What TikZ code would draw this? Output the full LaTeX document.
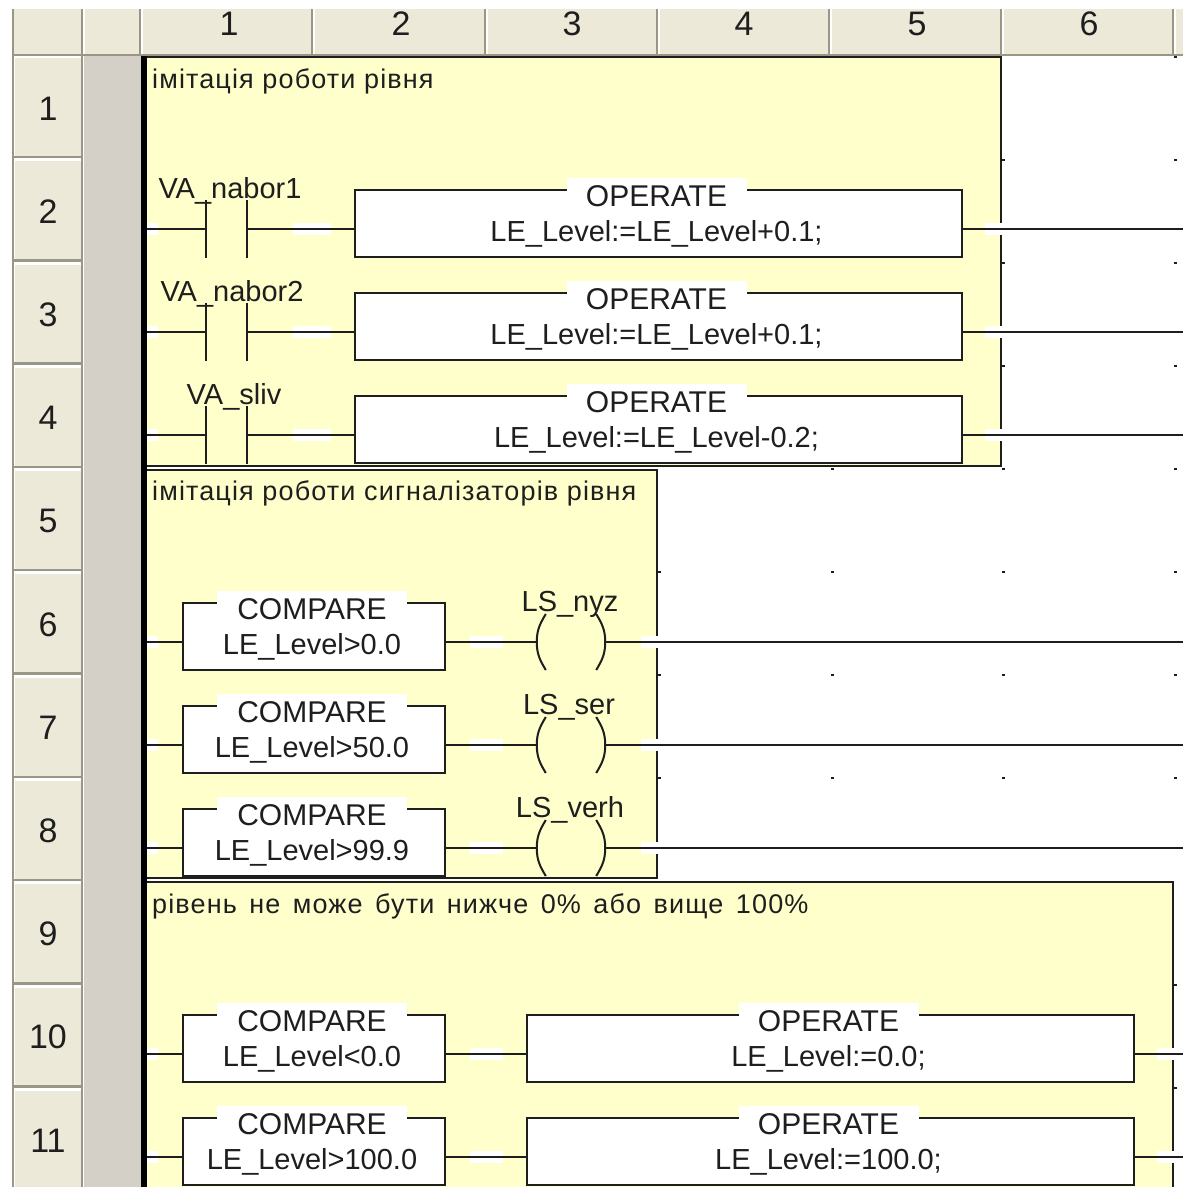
\documentclass[tikz,border=0pt]{standalone}
\usepackage{fontspec}
\setmainfont{Liberation Sans}
\usetikzlibrary{calc}
\definecolor{hdr}{HTML}{ECE9D8}
\definecolor{hdrdark}{HTML}{9A9686}
\definecolor{gutter}{HTML}{D4D0C8}
\definecolor{pale}{HTML}{FFFFCC}
\definecolor{ink}{HTML}{1E1E1E}
\tikzset{
  wire/.style={draw=ink,line width=2pt},
  ladbox/.style={draw=ink,line width=2.2pt,fill=white,inner sep=0pt,minimum height=67pt},
  hidden/.style={inner sep=0pt,minimum width=#1,minimum height=58pt},
  txt/.style={anchor=base,inner sep=0pt,font=\fontsize{29}{30}\selectfont,text=ink},
  title/.style={anchor=base,inner sep=2pt,fill=white,text height=26pt,text depth=6pt,font=\fontsize{30}{30}\selectfont,text=ink},
  note/.style={anchor=base west,inner sep=0pt,font=\fontsize{27}{30}\addfontfeature{LetterSpace=4.2}\selectfont,text=ink},
  num/.style={anchor=base,inner sep=0pt,font=\fontsize{34}{34}\selectfont,text=ink},
  border/.style={draw=ink,line width=2pt}
}
% name, left, top, right, title, title patch width, body
\newcommand{\ladblock}[7]{%
  \node[ladbox,minimum width=#4pt-#2pt] (#1) at ({(#2+#4)/2},{#3+33.5}) {};
  \node[title,minimum width=#6pt] (#1t) at ({(#2+#4)/2-2},{#3+16}) {#5};
  \node[txt] (#1b) at ({(#2+#4)/2-2},{#3+51}) {#7};
}
\newcommand{\patch}[3]{\fill[white] (#1,#3-6) rectangle (#2,#3+6);}
\newcommand{\contact}[5]{% name, y, label x, label, dummy
  \node[hidden=41pt] (#1) at (226.5,#2) {};
  \node[txt] (#1l) at (#3,#2-31) {#4};
  \draw[wire] (#1.north west) -- (#1.south west) (#1.north east) -- (#1.south east);
}
\newcommand{\coil}[4]{% name, y, label x, label
  \node[hidden=68pt] (#1) at (571,#2) {};
  \node[txt] (#1l) at (#3,#2-31) {#4};
  \draw[wire] ($(#1.west)+(9,-28)$) .. controls +(-6,10) and +(0,-12) .. (#1.west) .. controls +(0,12) and +(-6,-10) .. ($(#1.west)+(9,28)$);
  \draw[wire] ($(#1.east)+(-9,-28)$) .. controls +(6,10) and +(0,-12) .. (#1.east) .. controls +(0,12) and +(6,-10) .. ($(#1.east)+(-9,28)$);
}
\begin{document}
\begin{tikzpicture}[x=1pt,y=-1pt]
\useasboundingbox (0,0) rectangle (1183,1187);
\fill[white] (0,0) rectangle (1183,1187);
% header bar
\fill[hdr] (14,9) rectangle (1183,54);
\draw[hdrdark,line width=2.5pt] (13,9) -- (13,1187);
\draw[hdrdark,line width=2pt] (14,55) -- (1183,55);
\foreach \x in {82,140,312,485,657,829,1001,1173}{
  \draw[hdrdark,line width=2.5pt] (\x,9) -- (\x,54);
  \draw[white,line width=1.5pt] (\x+2,9) -- (\x+2,54);
}
\foreach \n/\x in {1/229,2/401,3/572,4/744,5/917,6/1089}{
  \node[num] (col\n) at (\x,35) {\n};
}
% row headers
\fill[gutter] (84,56) rectangle (141,1187);
\foreach \k in {1,...,11}{
  \pgfmathsetmacro\rtop{54.2+103.3*(\k-1)}
  \pgfmathsetmacro\rbase{120+103.2*(\k-1)}
  \fill[hdr] (15,\rtop+2.5) rectangle (81,\rtop+101.5);
  \draw[white,line width=1.5pt] (15,\rtop+3) -- (81,\rtop+3);
  \draw[hdrdark,line width=2.5pt] (14,\rtop+102.8) -- (83,\rtop+102.8);
  \node[num] (row\k) at (48,\rbase) {\k};
}
\draw[hdrdark,line width=2.5pt] (82,56) -- (82,1187);
% comment regions
\fill[pale] (147,57) rectangle (1001,466);
\fill[pale] (147,470) rectangle (657,878);
\fill[pale] (147,882) rectangle (1173,1187);
\draw[border] (147,57) -- (1001,57) -- (1001,466) -- (147,466);
\draw[border] (147,470) -- (657,470) -- (657,878) -- (147,878);
\draw[border] (147,882) -- (1173,882) -- (1173,1187);
\fill[black] (141,56) rectangle (147,1187);
% grid dots
\foreach \x/\y in {1175/57,1175/160,1175/263,1175/366,832/469,1003/469,1175/469,
  832/572,1003/572,1175/572,832/675,1003/675,1175/675,832/778,1003/778,1175/778,
  1003/160,1003/263,1003/366,659/572,659/675,659/778,1175/985,1175/1088}{
  \fill[ink] (\x-1.5,\y-1) rectangle (\x+1.5,\y+1);
}
% white gaps on the wires
\foreach \y in {229,332,435}{\patch{147}{158}{\y}\patch{293}{331}{\y}\patch{985}{1003}{\y}}
\foreach \y in {642,745,848}{\patch{147}{158}{\y}\patch{470}{503}{\y}\patch{641}{659}{\y}}
\foreach \y in {1054,1157}{\patch{147}{158}{\y}\patch{470}{503}{\y}\patch{1157}{1175}{\y}}
% notes
\node[note] (n1) at (152,88) {імітація роботи рівня};
\node[note] (n2) at (152,500) {імітація роботи сигналізаторів рівня};
\node[note] (n3) at (152,913) {\spaceskip=12.5pt рівень не може бути нижче 0\% або вище 100\%};
% rung 1..3
\contact{ca}{229}{230}{VA\_nabor1}{}
\contact{cb}{332}{232}{VA\_nabor2}{}
\contact{cc}{435}{234}{VA\_sliv}{}
\foreach \nm/\y in {ca/229,cb/332,cc/435}{
  \coordinate (\nm L) at (147,\y);
  \coordinate (\nm R) at (1183,\y);
}
\ladblock{oa}{355}{190}{962}{OPERATE}{180}{LE\_Level:=LE\_Level+0.1;}
\ladblock{ob}{355}{293}{962}{OPERATE}{180}{LE\_Level:=LE\_Level+0.1;}
\ladblock{oc}{355}{396}{962}{OPERATE}{180}{LE\_Level:=LE\_Level-0.2;}
\draw[wire] (caL) -- (ca.west) (ca.east) -- (oa.west |- caL) (oa.east |- caL) -- (caR);
\draw[wire] (cbL) -- (cb.west) (cb.east) -- (ob.west |- cbL) (ob.east |- cbL) -- (cbR);
\draw[wire] (ccL) -- (cc.west) (cc.east) -- (oc.west |- ccL) (oc.east |- ccL) -- (ccR);
% rung 4..6
\ladblock{pa}{183}{603}{445}{COMPARE}{190}{LE\_Level>0.0}
\ladblock{pb}{183}{706}{445}{COMPARE}{190}{LE\_Level>50.0}
\ladblock{pc}{183}{809}{445}{COMPARE}{190}{LE\_Level>99.9}
\coil{la}{642}{570}{LS\_nyz}
\coil{lb}{745}{569}{LS\_ser}
\coil{lc}{848}{570}{LS\_verh}
\foreach \nm/\y in {pa/642,pb/745,pc/848}{
  \coordinate (\nm L) at (147,\y);
  \coordinate (\nm R) at (1183,\y);
}
\draw[wire] (paL) -- (pa.west |- paL) (pa.east |- paL) -- (la.west) (la.east) -- (paR);
\draw[wire] (pbL) -- (pb.west |- pbL) (pb.east |- pbL) -- (lb.west) (lb.east) -- (pbR);
\draw[wire] (pcL) -- (pc.west |- pcL) (pc.east |- pcL) -- (lc.west) (lc.east) -- (pcR);
% rung 7..8
\ladblock{qa}{183}{1015}{445}{COMPARE}{190}{LE\_Level<0.0}
\ladblock{qb}{183}{1118}{445}{COMPARE}{190}{LE\_Level>100.0}
\ladblock{ra}{527}{1015}{1134}{OPERATE}{180}{LE\_Level:=0.0;}
\ladblock{rb}{527}{1118}{1134}{OPERATE}{180}{LE\_Level:=100.0;}
\coordinate (qaL) at (147,1054); \coordinate (qaR) at (1183,1054);
\coordinate (qbL) at (147,1157); \coordinate (qbR) at (1183,1157);
\draw[wire] (qaL) -- (qa.west |- qaL) (qa.east |- qaL) -- (ra.west |- qaL) (ra.east |- qaL) -- (qaR);
\draw[wire] (qbL) -- (qb.west |- qbL) (qb.east |- qbL) -- (rb.west |- qbL) (rb.east |- qbL) -- (qbR);
\end{tikzpicture}
\end{document}
